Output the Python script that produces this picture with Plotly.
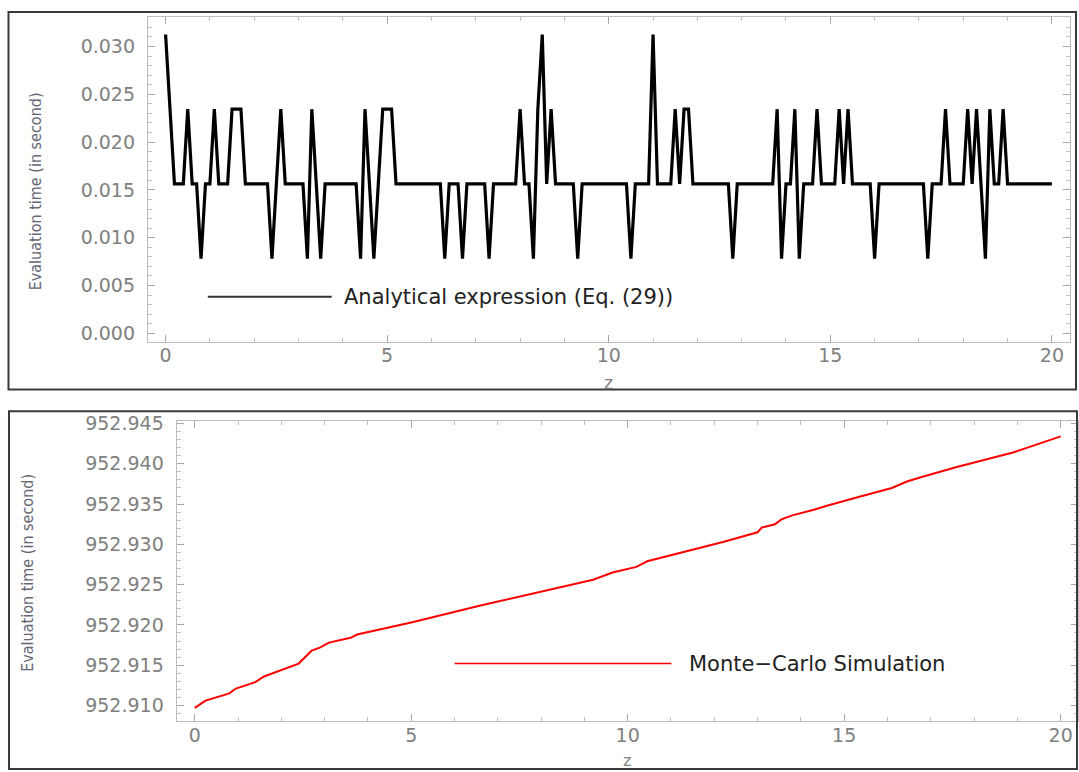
import plotly.graph_objects as go

W, H = 1079, 772

# ---------------- data ----------------
# top panel: analytical expression, z sampled every 0.1 from 0 to 20
z_analytic = [i / 10 for i in range(201)]
eval_time_analytic = [
    0.03125, 0.0234375, 0.015625, 0.015625, 0.015625, 0.0234375, 0.015625, 0.015625, 0.0078125, 0.015625,   # 0.0-0.9
    0.015625, 0.0234375, 0.015625, 0.015625, 0.015625, 0.0234375, 0.0234375, 0.0234375, 0.015625, 0.015625,  # 1.0-1.9
    0.015625, 0.015625, 0.015625, 0.015625, 0.0078125, 0.015625, 0.0234375, 0.015625, 0.015625, 0.015625,   # 2.0-2.9
    0.015625, 0.015625, 0.0078125, 0.0234375, 0.015625, 0.0078125, 0.015625, 0.015625, 0.015625, 0.015625,  # 3.0-3.9
    0.015625, 0.015625, 0.015625, 0.015625, 0.0078125, 0.0234375, 0.015625, 0.0078125, 0.015625, 0.0234375, # 4.0-4.9
    0.0234375, 0.0234375, 0.015625, 0.015625, 0.015625, 0.015625, 0.015625, 0.015625, 0.015625, 0.015625,   # 5.0-5.9
    0.015625, 0.015625, 0.015625, 0.0078125, 0.015625, 0.015625, 0.015625, 0.0078125, 0.015625, 0.015625,   # 6.0-6.9
    0.015625, 0.015625, 0.015625, 0.0078125, 0.015625, 0.015625, 0.015625, 0.015625, 0.015625, 0.015625,    # 7.0-7.9
    0.0234375, 0.015625, 0.015625, 0.0078125, 0.0234375, 0.03125, 0.015625, 0.0234375, 0.015625, 0.015625,  # 8.0-8.9
    0.015625, 0.015625, 0.015625, 0.0078125, 0.015625, 0.015625, 0.015625, 0.015625, 0.015625, 0.015625,    # 9.0-9.9
    0.015625, 0.015625, 0.015625, 0.015625, 0.015625, 0.0078125, 0.015625, 0.015625, 0.015625, 0.015625,    # 10.0-10.9
    0.03125, 0.015625, 0.015625, 0.015625, 0.015625, 0.0234375, 0.015625, 0.0234375, 0.0234375, 0.015625,   # 11.0-11.9
    0.015625, 0.015625, 0.015625, 0.015625, 0.015625, 0.015625, 0.015625, 0.015625, 0.0078125, 0.015625,    # 12.0-12.9
    0.015625, 0.015625, 0.015625, 0.015625, 0.015625, 0.015625, 0.015625, 0.015625, 0.0234375, 0.0078125,   # 13.0-13.9
    0.015625, 0.015625, 0.0234375, 0.0078125, 0.015625, 0.015625, 0.015625, 0.0234375, 0.015625, 0.015625,  # 14.0-14.9
    0.015625, 0.015625, 0.0234375, 0.015625, 0.0234375, 0.015625, 0.015625, 0.015625, 0.015625, 0.015625,   # 15.0-15.9
    0.0078125, 0.015625, 0.015625, 0.015625, 0.015625, 0.015625, 0.015625, 0.015625, 0.015625, 0.015625,    # 16.0-16.9
    0.015625, 0.015625, 0.0078125, 0.015625, 0.015625, 0.015625, 0.0234375, 0.015625, 0.015625, 0.015625,   # 17.0-17.9
    0.015625, 0.0234375, 0.015625, 0.0234375, 0.015625, 0.0078125, 0.0234375, 0.015625, 0.015625, 0.0234375, # 18.0-18.9
    0.015625, 0.015625, 0.015625, 0.015625, 0.015625, 0.015625, 0.015625, 0.015625, 0.015625, 0.015625,     # 19.0-19.9
    0.015625,                                                                                              # 20.0
]

# bottom panel: Monte-Carlo simulation
z_mc = [0.0, 0.1, 0.25, 0.8, 0.95, 1.4, 1.6, 2.4, 2.55, 2.7, 2.9, 3.1, 3.6, 3.75,
        5.0, 5.6, 6.4, 6.6, 9.2, 9.65, 10.2, 10.45, 12.2, 12.8, 13.0, 13.1, 13.4,
        13.55, 13.8, 14.3, 14.6, 15.35, 16.1, 16.45, 16.75, 17.6, 18.7, 18.9, 20.0]
eval_time_mc = [952.9097, 952.9101, 952.9106, 952.9115, 952.9121, 952.9129, 952.9136,
                952.9152, 952.9160, 952.9168, 952.9172, 952.9178, 952.9184, 952.9188,
                952.9203, 952.9211, 952.9221, 952.9224, 952.9256, 952.9265, 952.9272,
                952.9279, 952.9303, 952.9312, 952.9315, 952.9321, 952.9325, 952.9331,
                952.9336, 952.9343, 952.9348, 952.9359, 952.9370, 952.9378, 952.9383,
                952.9396, 952.9412, 952.9414, 952.9434]

x_ticks = [0, 5, 10, 15, 20]
y_label = "Evaluation time (in second)"
x_label = "z"
legend_top = "Analytical expression (Eq. (29))"
legend_bottom = "Monte\u2212Carlo Simulation"

# ---------------- helpers ----------------
def fx(px):
    return px / W


def fy(py):
    return 1 - py / H


TICK_FONT = dict(family="DejaVu Sans", size=19, color="#808080")
TITLE_FONT = dict(family="Liberation Sans Narrow, DejaVu Sans Condensed, Liberation Sans",
                  size=16, color="#666674")

common = dict(
    showline=True, linecolor="#bdbdbd", linewidth=1, mirror="ticks",
    ticks="inside", ticklen=7, tickwidth=1, tickcolor="#a8a8a8",
    showgrid=False, zeroline=False, tickfont=TICK_FONT,
    minor=dict(ticks="inside", ticklen=4, tickcolor="#c0c0c0", showgrid=False),
)

fig = go.Figure()
fig.add_trace(go.Scatter(x=z_analytic, y=eval_time_analytic, mode="lines",
                         line=dict(color="black", width=3.2), xaxis="x", yaxis="y",
                         showlegend=False, hoverinfo="skip"))
fig.add_trace(go.Scatter(x=z_mc, y=eval_time_mc, mode="lines",
                         line=dict(color="#ff0000", width=2), xaxis="x2", yaxis="y2",
                         showlegend=False, hoverinfo="skip"))

fig.update_layout(
    width=W, height=H, autosize=False,
    margin=dict(l=0, r=0, t=0, b=0),
    paper_bgcolor="white", plot_bgcolor="white",
    xaxis=dict(common, domain=[fx(148), fx(1070.6)], range=[-0.4, 20.4],
               tickvals=x_ticks, anchor="y", ticklabelstandoff=-4,
               minor=dict(common["minor"], dtick=1, tick0=0)),
    yaxis=dict(common, domain=[fy(338), fy(8)], range=[-0.000928, 0.033093],
               tickmode="linear", tick0=0, dtick=0.005, tickformat=".3f",
               anchor="x", ticklabelstandoff=8,
               minor=dict(common["minor"], dtick=0.001, tick0=0)),
    xaxis2=dict(common, domain=[fx(176.7), 1.0], range=[-0.42, 20.40],
                tickvals=x_ticks, anchor="y2", ticklabelstandoff=-3,
                minor=dict(common["minor"], dtick=1, tick0=0)),
    yaxis2=dict(common, domain=[fy(722.7), fy(418.3)], range=[952.90802, 952.94527],
                tickmode="linear", tick0=952.91, dtick=0.005, tickformat=".3f",
                anchor="x2", ticklabelstandoff=8,
                minor=dict(common["minor"], dtick=0.001, tick0=952.91)),
    hovermode=False,
)

annotations = [
    dict(x=fx(35), y=fy(185), text=y_label, textangle=-90, font=TITLE_FONT),
    dict(x=fx(28), y=fy(572), text=y_label, textangle=-90, font=TITLE_FONT),
    dict(x=fx(609), y=fy(379), text=x_label,
         font=dict(family="DejaVu Sans", size=17, color="#808080")),
    dict(x=fx(628), y=fy(762), text=x_label,
         font=dict(family="DejaVu Sans", size=16, color="#808080")),
    dict(x=fx(342), y=fy(292), text=legend_top, xanchor="left", yanchor="middle",
         font=dict(family="DejaVu Sans", size=21, color="#222222")),
    dict(x=fx(688), y=fy(664), text=legend_bottom, xanchor="left", yanchor="middle",
         font=dict(family="DejaVu Sans", size=21, color="#222222")),
]
for a in annotations:
    a.update(xref="paper", yref="paper", showarrow=False)
    a.setdefault("xanchor", "center")
    a.setdefault("yanchor", "middle")
fig.update_layout(annotations=annotations)

shapes = [
    # outer panel boxes
    dict(type="rect", x0=fx(8.5), x1=fx(1077), y0=fy(386), y1=fy(3),
         line=dict(color="#3a3a3a", width=2)),
    dict(type="rect", x0=fx(9), x1=fx(1078), y0=fy(771), y1=fy(408),
         line=dict(color="#3a3a3a", width=2)),
    # legend samples
    dict(type="line", x0=fx(208), x1=fx(332), y0=fy(292), y1=fy(292),
         line=dict(color="#333333", width=2)),
    dict(type="line", x0=fx(455), x1=fx(672), y0=fy(664), y1=fy(664),
         line=dict(color="#ff0000", width=1.5)),
]
for s in shapes:
    s.update(xref="paper", yref="paper")
fig.update_layout(shapes=shapes)

fig.write_html("out.html")
